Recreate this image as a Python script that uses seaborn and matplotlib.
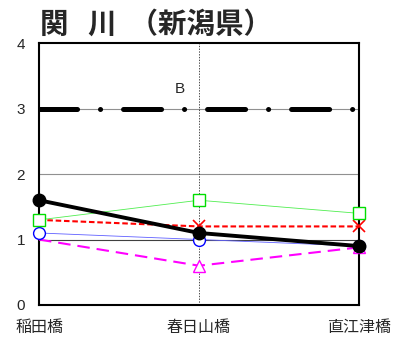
import pandas as pd
import matplotlib
matplotlib.use("Agg")
import matplotlib.pyplot as plt
import seaborn as sns

# data
sites = ["稲田橋", "春日山橋", "直江津橋"]
black_vals = [1.6, 1.1, 0.9]
green_vals = [1.3, 1.6, 1.4]
red_vals = [1.3, 1.2, 1.2]
blue_vals = [1.1, 1.0, 0.9]
magenta_vals = [1.0, 0.6, 0.88]
ref_level = 3.0
ref_label = "B"
title = "関   川  （新潟県）"

sns.set_style("white")
plt.rcParams['font.family'] = ['Noto Sans CJK JP', 'DejaVu Sans']
plt.rcParams['lines.scale_dashes'] = False

pos = list(range(len(sites)))
df = pd.DataFrame({
    "pos": pos * 5,
    "value": magenta_vals + red_vals + blue_vals + green_vals + black_vals,
    "series": ["m"] * 3 + ["r"] * 3 + ["b"] * 3 + ["g"] * 3 + ["k"] * 3,
})

fig = plt.figure(figsize=(3.94, 3.37), dpi=100)
ax = fig.add_axes([0.099, 0.095, 0.812, 0.777])

# grid
ax.axhline(1, color="#404040", lw=0.8, zorder=1)
ax.axhline(2, color="#909090", lw=0.8, zorder=1)
ax.axhline(3, color="#909090", lw=0.8, zorder=1)
ax.axvline(1, color="#303030", lw=0.6, ls=(0, (1, 1)), zorder=1)

styles = {
    "m": dict(color="#ff00ff", lw=1.5, ls=(0, (9, 5)), marker="^", ms=8,
              mfc="white", mec="#ff00ff", mew=1.0, every=[1, 2]),
    "r": dict(color="#ff0000", lw=1.5, ls=(0, (4, 2)), marker="x", ms=8,
              mec="#ff0000", mew=1.2, every=[1, 2]),
    "b": dict(color="#6060ff", lw=0.6, ls="-", marker="o", ms=8.5,
              mfc="white", mec="#0000ff", mew=1.0),
    "g": dict(color="#50ee50", lw=0.6, ls="-", marker="s", ms=8.5,
              mfc="white", mec="#00dd00", mew=1.0),
    "k": dict(color="black", lw=2.8, ls="-", marker="o", ms=9,
              mfc="black", mec="black"),
}
for i, key in enumerate(["m", "r", "b", "g", "k"]):
    sub = df[df["series"] == key]
    st = styles[key]
    sns.lineplot(data=sub, x="pos", y="value", ax=ax, color=st["color"],
                 lw=st["lw"], linestyle=st["ls"], marker=st["marker"],
                 markersize=st["ms"], markerfacecolor=st.get("mfc", "none"),
                 markeredgecolor=st["mec"], markeredgewidth=st.get("mew", 1.0),
                 markevery=st.get("every"), zorder=3 + i, legend=False,
                 clip_on=False)

# reference line B
ax.axhline(ref_level, color="black", lw=3.6, solid_capstyle="round",
           dash_capstyle="round", ls=(0, (27.4, 16.5, 0.1, 16.5)), zorder=2)
ax.text(0.88, ref_level + 0.3, ref_label, fontsize=11,
        family=["Liberation Sans"], ha="center", va="center")

ax.set_xlim(0, 2)
ax.set_ylim(0, 4)
ax.set_xticks(pos)
ax.set_xticklabels(sites, fontsize=11.5)
ax.set_yticks([0, 1, 2, 3, 4])
ax.set_yticklabels(["0", "1", "2", "3", "4"], fontsize=11,
                   family=["Liberation Sans"])
ax.tick_params(axis="x", length=0, pad=10)
ax.tick_params(axis="y", length=0, pad=10)
ax.set_xlabel("")
ax.set_ylabel("")
for sp in ax.spines.values():
    sp.set_color("black")
    sp.set_linewidth(1.5)

fig.text(0.102, 0.926, title, fontsize=20.5, fontweight="bold",
         ha="left", va="center")

fig.savefig("out.png", dpi=100)
